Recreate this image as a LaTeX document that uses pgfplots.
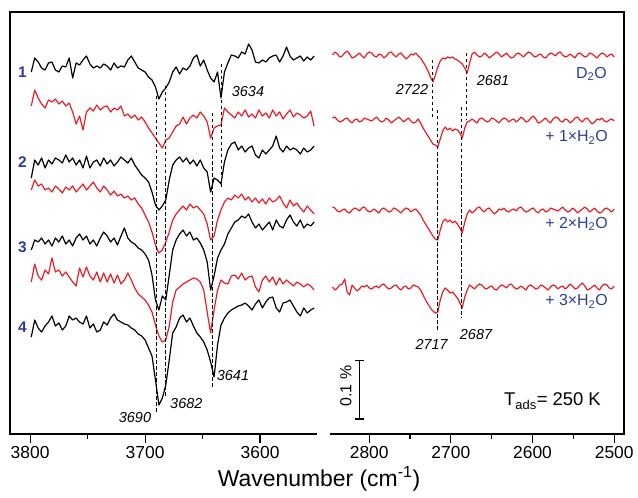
\documentclass[border=0pt]{standalone}
\usepackage{pgfplots}
\pgfplotsset{compat=1.18}
\usepackage{pgfplotstable}
\usepackage{fontspec}
\setmainfont{Liberation Sans}
\definecolor{specred}{RGB}{236,28,36}
\definecolor{lblblue}{RGB}{46,62,152}
\pgfplotstableread{
wn b1 r1 b2 r2 b3 r3 b4
3799 72 106 178 190 250 282 337
3796 58 90 160 180 240 264 320
3793 62 98 165 186 242 276 328
3790 68 104 158 184 238 280 332
3787 70 108 168 190 244 270 326
3784 63 100 160 188 240 274 322
3781 62 102 164 192 246 258 316
3778 70 99 158 186 238 272 326
3775 72 104 160 189 242 270 323
3772 66 101 163 193 236 276 330
3769 67 106 155 187 244 272 326
3766 58 103 162 190 240 277 316
3763 78 112 158 186 246 282 320
3760 63 124 165 192 238 286 318
3757 65 116 160 188 234 268 322
3754 60 130 168 184 240 277 324
3751 56 112 156 190 236 267 316
3748 64 108 168 186 244 276 328
3745 68 111 162 182 240 280 324
3742 66 105 160 188 246 272 332
3739 68 110 166 192 238 282 330
3736 64 107 158 186 232 273 322
3733 66 106 164 190 236 282 325
3730 70 112 160 195 242 274 318
3727 63 108 166 191 238 283 314
3724 68 110 162 196 245 275 320
3721 66 106 157 194 236 284 322
3718 67 116 160 198 228 280 324
3715 60 114 163 196 238 273 325
3712 56 118 158 200 242 280 328
3709 62 115 165 198 244 288 330
3706 68 120 170 204 248 294 334
3703 70 117 175 208 250 297 336
3700 72 122 178 215 254 300 340
3697 77 128 182 222 260 305 348
3694 80 133 192 232 275 312 356
3691 87 138 205 245 300 325 380
3688 99 143 210 253 310 336 405
3685 92 148 206 250 296 342 398
3682 88 140 200 242 300 340 385
3679 82 138 180 232 275 326 360
3676 72 132 165 220 250 302 333
3673 67 126 160 214 240 290 327
3670 74 124 157 210 234 287 318
3667 68 117 162 206 230 284 315
3664 70 124 158 210 236 282 322
3661 66 118 164 204 232 280 318
3658 58 115 160 208 240 278 326
3655 55 118 166 206 238 279 333
3652 66 112 160 210 243 282 337
3649 60 116 168 214 250 290 342
3646 70 122 172 224 262 312 350
3643 78 138 192 240 290 333 362
3640 82 128 178 236 276 310 377
3637 72 126 180 220 258 290 345
3634 98 125 184 210 250 280 325
3631 72 108 162 202 244 283 318
3628 63 112 150 198 234 284 313
3625 55 115 144 200 228 276 310
3622 56 118 142 195 222 275 308
3619 58 112 150 198 220 279 306
3616 52 116 146 194 216 273 305
3613 54 110 152 200 218 280 303
3610 44 117 148 197 214 277 306
3607 50 114 146 202 222 276 310
3604 62 118 155 198 228 287 304
3601 63 110 158 203 224 292 300
3598 60 116 150 199 230 280 308
3595 62 113 154 204 226 276 302
3592 58 118 150 198 222 282 298
3589 56 110 146 202 230 277 297
3586 55 116 136 200 220 285 308
3583 62 112 148 196 226 278 312
3580 56 119 152 203 228 284 303
3577 47 114 146 208 220 280 302
3574 56 110 150 200 215 283 300
3571 60 117 148 206 222 286 306
3568 58 113 150 203 226 282 312
3565 56 115 154 208 220 284 316
3562 61 118 148 212 228 287 308
3559 57 116 152 206 224 284 313
3556 60 111 150 210 226 286 310
3553 56 126 146 214 222 290 308
}\lefttab
\pgfplotstableread{
wn d h1 h2 h3
2845 55 118 207 287
2842 52 117 208 290
2839 54 120 211 288
2836 57 122 212 285
2833 56 121 210 284
2830 53 119 209 279
2827 51 118 212 292
2824 54 121 213 295
2821 58 123 210 285
2818 57 120 208 288
2815 55 119 209 291
2812 53 122 211 289
2809 56 121 208 286
2806 58 118 207 287
2803 54 119 210 285
2800 52 120 212 288
2797 53 121 211 289
2794 56 119 209 287
2791 57 117 211 286
2788 54 120 213 288
2785 55 122 209 285
2782 58 121 208 284
2779 56 118 210 287
2776 53 120 212 289
2773 52 123 211 288
2770 55 121 208 286
2767 57 119 209 285
2764 54 117 211 288
2761 53 119 213 290
2758 56 122 210 287
2755 59 120 208 286
2752 57 118 209 289
2749 54 121 212 288
2746 55 123 210 285
2743 53 122 209 286
2740 56 119 212 287
2737 58 123 215 290
2734 62 128 220 295
2731 66 132 224 300
2728 71 136 228 304
2725 77 140 232 308
2722 82 144 236 311
2719 75 145 239 313
2716 67 147 240 312
2713 61 139 230 300
2710 58 131 222 292
2707 59 127 219 288
2704 57 130 222 290
2701 58 128 220 293
2698 57 131 223 292
2695 59 129 221 295
2692 60 130 224 298
2689 62 133 228 303
2686 64 138 233 308
2683 68 128 222 297
2680 73 122 214 290
2677 63 121 210 285
2674 54 119 213 287
2671 52 121 211 289
2668 55 123 208 286
2665 57 119 207 284
2662 56 118 210 285
2659 53 120 212 288
2656 55 122 209 289
2653 58 121 208 287
2650 56 118 211 286
2647 54 119 214 289
2644 52 121 212 290
2641 54 123 209 287
2638 57 120 210 285
2635 55 118 208 286
2632 53 119 211 288
2629 56 122 212 285
2626 58 120 210 284
2623 57 119 209 287
2620 54 122 211 289
2617 53 120 208 288
2614 55 117 207 286
2611 57 119 210 288
2608 54 122 212 290
2605 52 121 211 286
2602 53 118 209 285
2599 56 116 208 287
2596 57 119 211 289
2593 55 123 213 288
2590 54 122 210 285
2587 57 120 209 286
2584 58 118 212 288
2581 55 121 211 290
2578 53 123 208 287
2575 54 119 209 285
2572 56 117 210 286
2569 53 118 211 289
2566 52 121 209 287
2563 55 122 207 286
2560 57 119 210 289
2557 56 120 212 287
2554 54 123 211 284
2551 56 121 208 286
2548 58 118 210 289
2545 54 117 213 288
2542 53 120 211 285
2539 55 122 209 283
2536 57 119 207 286
2533 56 118 209 290
2530 53 121 212 289
2527 54 124 210 287
2524 56 122 208 285
2521 58 119 211 288
2518 55 120 213 290
2515 53 118 212 286
2512 54 121 209 284
2509 57 122 208 285
2506 55 120 210 288
2503 54 119 212 289
2500 57 121 209 286
}\righttab
\tikzset{pk/.style={black, line width=0.9pt, dash pattern=on 3.5bp off 2.5bp}}
\pgfplotsset{
  panel/.style={
    scale only axis, anchor=south west, height=422bp,
    y dir=reverse, ymin=12, ymax=434, ytick=\empty,
    x dir=reverse, clip=false,
    axis line style={draw=none},
    tick align=outside, xtick pos=left, xticklabel pos=left,
    major tick length=9bp, minor tick length=5bp,
    tick style={black, line width=1.2pt},
    minor x tick num=1,
    xticklabel style={font=\fontsize{17.5}{18}\selectfont},
    /pgf/number format/assume math mode=true,
    /pgf/number format/1000 sep={},
    every axis plot/.append style={line width=1.2pt, line join=round},
  },
}
\begin{document}
\begin{tikzpicture}
\useasboundingbox (0,0) rectangle (638bp,498bp);
\begin{axis}[panel, at={(10bp,64bp)}, width=307bp, xmin=3550.5, xmax=3817.5, xtick={3600,3700,3800}]
\addplot[black] table[x=wn,y=b1]{\lefttab};
\addplot[specred] table[x=wn,y=r1]{\lefttab};
\addplot[black] table[x=wn,y=b2]{\lefttab};
\addplot[specred] table[x=wn,y=r2]{\lefttab};
\addplot[black] table[x=wn,y=b3]{\lefttab};
\addplot[specred] table[x=wn,y=r3]{\lefttab};
\addplot[black] table[x=wn,y=b4]{\lefttab};
\draw[pk] (axis cs:3690,96) -- (axis cs:3690,413);
\draw[pk] (axis cs:3682,86) -- (axis cs:3682,398);
\draw[pk] (axis cs:3641,113) -- (axis cs:3641,388);
\draw[pk] (axis cs:3634,64) -- (axis cs:3634,188);
\end{axis}
\begin{axis}[panel, at={(330bp,64bp)}, width=294bp, xmin=2488, xmax=2848, xtick={2500,2600,2700,2800}]
\addplot[specred] table[x=wn,y=d]{\righttab};
\addplot[specred] table[x=wn,y=h1]{\righttab};
\addplot[specred] table[x=wn,y=h2]{\righttab};
\addplot[specred] table[x=wn,y=h3]{\righttab};
\draw[pk] (axis cs:2722,60) -- (axis cs:2722,118);
\draw[pk] (axis cs:2717,110) -- (axis cs:2717,332);
\draw[pk] (axis cs:2681,53) -- (axis cs:2681,120);
\draw[pk] (axis cs:2687,107) -- (axis cs:2687,318);
\end{axis}
% frame
\draw[line width=1.5pt, line join=miter] (317bp,64bp) -- (10bp,64bp) -- (10bp,486bp) -- (624bp,486bp) -- (624bp,64bp) -- (330bp,64bp);
% trace numbers
\begin{scope}[every node/.style={inner sep=0pt, text=lblblue, font=\fontsize{15.5}{16}\selectfont\bfseries}]
\node at (22.5bp,426.3bp) {1};
\node at (22.5bp,336.3bp) {2};
\node at (22.5bp,251bp) {3};
\node at (22.5bp,171bp) {4};
\end{scope}
% peak labels
\begin{scope}[every node/.style={inner sep=0pt, font=\fontsize{14.5}{15}\selectfont\itshape}]
\node at (248bp,406bp) {3634};
\node at (233bp,122bp) {3641};
\node at (186.3bp,94bp) {3682};
\node at (135bp,80bp) {3690};
\node at (412bp,409bp) {2722};
\node at (493bp,417.5bp) {2681};
\node at (431.7bp,154bp) {2717};
\node at (476bp,163.5bp) {2687};
\end{scope}
% dosing labels
\begin{scope}[every node/.style={inner sep=0pt, anchor=base east, text=lblblue, font=\fontsize{16}{17}\selectfont}]
\node at (607bp,419.7bp) {D\textsubscript{2}O};
\node at (608bp,356.3bp) {+ 1×H\textsubscript{2}O};
\node at (608bp,269.7bp) {+ 2×H\textsubscript{2}O};
\node at (608bp,192bp) {+ 3×H\textsubscript{2}O};
\end{scope}
% scale bar
\draw[line width=1.2pt] (359.3bp,137.3bp) -- (359.3bp,79bp);
\draw[line width=1.2pt] (355bp,137.3bp) -- (364bp,137.3bp);
\draw[line width=1.2pt] (355bp,79bp) -- (364bp,79bp);
\node[rotate=90, inner sep=0pt, font=\fontsize{16}{17}\selectfont] at (346bp,112bp) {0.1 \%};
\node[anchor=base west, inner sep=0pt, font=\fontsize{18.5}{19}\selectfont] at (504bp,92.3bp) {T\textsubscript{ads}= 250 K};
\node[anchor=base, inner sep=0pt, font=\fontsize{23}{24}\selectfont] at (319bp,12bp) {Wavenumber (cm\textsuperscript{-1})};
\end{tikzpicture}
\end{document}
